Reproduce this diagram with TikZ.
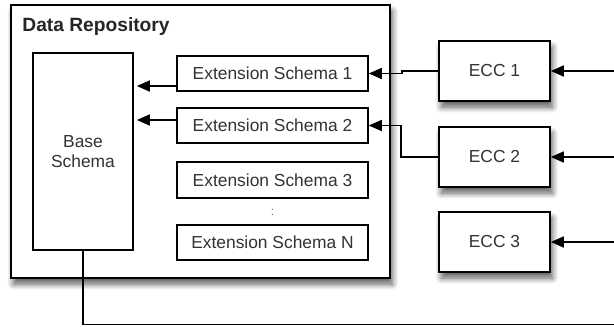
\documentclass[tikz,border=0pt]{standalone}
\usepackage{fontspec}
\setmainfont{Liberation Sans}
\usetikzlibrary{arrows.meta,shadows.blur}

\tikzset{
	box/.style={draw, line width=0.8pt, fill=white, text=black!80, inner sep=0pt, font=\fontsize{8.7}{10.4}\selectfont},
	shadowed/.style={blur shadow={shadow xshift=1.2pt, shadow yshift=-3pt, shadow blur radius=3pt, shadow blur steps=8, shadow opacity=65}},
	extbox/.style={box, minimum width=95.5pt, minimum height=17.75pt},
	eccbox/.style={box, shadowed, minimum width=55.5pt, minimum height=30pt},
	link/.style={line width=0.8pt, -{Triangle[length=6.5pt,width=5.5pt]}},
}

\begin{document}
\begin{tikzpicture}[x=0.5pt, y=-0.5pt]
	\useasboundingbox (0, 0) rectangle (614, 326);

	% data repository
	\node[box, shadowed, minimum width=189.5pt, minimum height=136.5pt] (repo) at (200.5, 141.5) {};
	\node[anchor=base west, text=black!85, font=\bfseries\fontsize{9.6}{11}\selectfont, inner sep=0pt] (title) at (22, 32) {Data Repository};
	\node[box, minimum width=50pt, minimum height=98.5pt, align=center] (base) at (83, 151.5) {Base\\Schema};

	\node[extbox] (ext1) at (272.5, 73.5) {Extension Schema 1};
	\node[extbox] (ext2) at (272.5, 125.5) {Extension Schema 2};
	\node[extbox] (ext3) at (272.5, 180) {Extension Schema 3};
	\node[text=black!50, inner sep=0pt, font=\fontsize{6}{6}\selectfont] (dots) at (272.5, 212) {:};
	\node[extbox] (extn) at (272.5, 242.5) {Extension Schema N};

	% ECCs
	\node[eccbox] (ecc1) at (494.5, 71) {ECC 1};
	\node[eccbox] (ecc2) at (494.5, 157) {ECC 2};
	\node[eccbox] (ecc3) at (494.5, 242) {ECC 3};

	% free ends on the right
	\coordinate (in1) at (614, 71);
	\coordinate (in2) at (614, 157);
	\coordinate (in3) at (614, 242);
	\coordinate (out) at (614, 324.5);

	\draw[link, shorten >=1.5pt] ([yshift=-6.25pt]ext1.west) -- (base.east |- 0, 86);
	\draw[link, shorten >=1.5pt] ([yshift=2.75pt]ext2.west) -- (base.east |- 0, 120);

	\draw[link] (ecc1.west) -- ++(-36, 0) |- (ext1.east);
	\draw[link] (ecc2.west) -- ++(-37, 0) |- (ext2.east);

	\draw[link] (in1) -- (ecc1.east);
	\draw[link] (in2) -- (ecc2.east);
	\draw[link] (in3) -- (ecc3.east);

	\draw[line width=0.8pt] (base.south) |- (out);
\end{tikzpicture}
\end{document}
